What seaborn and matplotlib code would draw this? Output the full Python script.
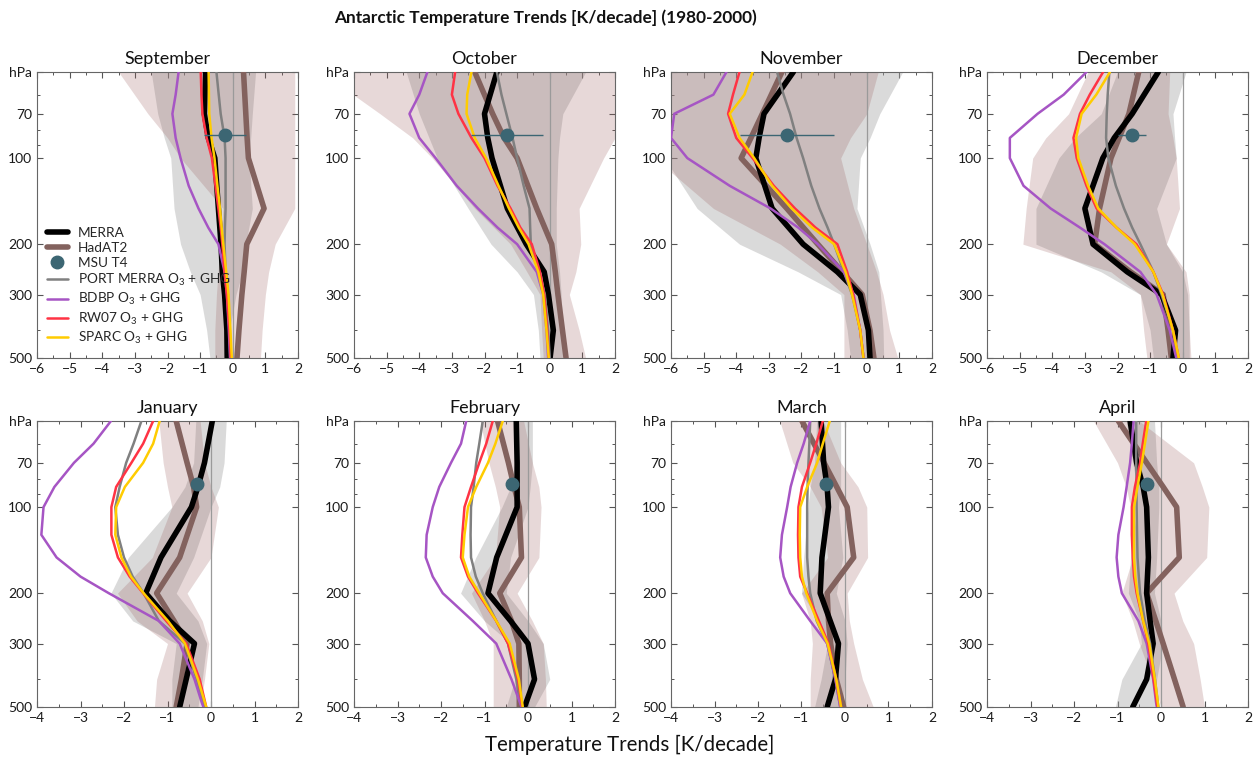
import numpy as np
import pandas as pd
import matplotlib
matplotlib.use('Agg')
import matplotlib.pyplot as plt
import seaborn as sns
from matplotlib.ticker import FixedLocator, NullFormatter
from matplotlib.lines import Line2D

sns.set_style('ticks')
plt.rcParams['font.family'] = ['Lato', 'DejaVu Sans']
plt.rcParams['mathtext.fontset'] = 'custom'
plt.rcParams['mathtext.rm'] = 'Lato'
plt.rcParams['mathtext.it'] = 'Lato:italic'

# ---------------- data ----------------
MONTHS = ['September', 'October', 'November', 'December',
          'January', 'February', 'March', 'April']
LEVELS = [50, 70, 85, 100, 150, 200, 250, 300, 400, 500]
MODEL_LEVELS = [50, 60, 70, 85, 100, 125, 150, 175, 200, 250, 300, 400, 500]
MSU_LEVEL = 83

MERRA = [
    [-0.83, -0.87, -0.75, -0.55, -0.44, -0.36, -0.32, -0.25, -0.18, -0.17],
    [-1.62, -2.0, -1.9, -1.77, -1.3, -0.72, -0.17, -0.04, 0.11, 0.01],
    [-2.25, -3.15, -3.3, -3.4, -2.9, -1.95, -0.9, -0.2, 0.05, 0.1],
    [-0.75, -1.55, -2.1, -2.45, -3.0, -2.75, -1.7, -0.65, -0.22, -0.3],
    [0.03, -0.15, -0.3, -0.45, -1.15, -1.5, -0.95, -0.38, -0.57, -0.72],
    [-0.27, -0.25, -0.25, -0.25, -0.72, -0.92, -0.4, 0.0, 0.15, -0.08],
    [-0.55, -0.49, -0.41, -0.38, -0.53, -0.57, -0.34, -0.15, -0.22, -0.41],
    [-0.71, -0.56, -0.41, -0.33, -0.29, -0.33, -0.25, -0.18, -0.33, -0.65],
]
HADAT2 = [
    [0.33, 0.4, 0.44, 0.48, 0.96, 0.43, 0.35, 0.28, 0.19, 0.13],
    [-2.3, -1.75, -1.4, -1.0, -0.4, 0.06, 0.17, 0.25, 0.39, 0.5],
    [-2.6, -3.2, -3.55, -3.85, -2.45, -1.5, -0.75, -0.14, 0.1, 0.22],
    [-1.35, -1.65, -1.95, -2.2, -2.55, -2.7, -1.6, -0.6, -0.45, -0.35],
    [-0.8, -0.55, -0.4, -0.33, -0.72, -1.25, -0.85, -0.55, -0.68, -0.8],
    [-0.7, -0.45, -0.32, -0.2, -0.15, -0.65, -0.38, -0.21, -0.2, -0.2],
    [-0.99, -0.48, -0.19, 0.05, 0.2, -0.41, -0.38, -0.33, -0.2, -0.03],
    [-0.98, -0.33, 0.05, 0.36, 0.42, -0.33, -0.12, 0.05, 0.31, 0.51],
]
PORT = [
    [-0.5, -0.43, -0.37, -0.25, -0.22, -0.22, -0.22, -0.24, -0.25, -0.22, -0.15, -0.1, -0.08],
    [-1.62, -1.48, -1.33, -1.14, -1.0, -0.8, -0.62, -0.6, -0.58, -0.35, -0.15, -0.05, 0.0],
    [-2.75, -2.55, -2.35, -2.15, -1.95, -1.7, -1.45, -1.2, -1.0, -0.7, -0.45, -0.2, -0.1],
    [-2.25, -2.3, -2.33, -2.35, -2.28, -2.05, -1.8, -1.55, -1.3, -0.9, -0.65, -0.3, -0.17],
    [-1.6, -1.78, -1.95, -2.1, -2.2, -2.14, -2.0, -1.8, -1.55, -1.2, -0.6, -0.33, -0.15],
    [-1.04, -1.12, -1.19, -1.25, -1.31, -1.32, -1.31, -1.2, -1.04, -0.73, -0.46, -0.27, -0.15],
    [-0.8, -0.82, -0.84, -0.86, -0.87, -0.87, -0.87, -0.84, -0.8, -0.65, -0.41, -0.22, -0.11],
    [-0.57, -0.57, -0.57, -0.56, -0.56, -0.55, -0.54, -0.51, -0.48, -0.37, -0.25, -0.14, -0.06],
]
BDBP = [
    [-1.66, -1.75, -1.85, -1.75, -1.6, -1.35, -1.05, -0.75, -0.44, -0.25, -0.18, -0.12, -0.08],
    [-3.75, -4.0, -4.3, -4.0, -3.5, -2.85, -2.2, -1.6, -1.0, -0.4, -0.2, -0.1, -0.05],
    [-4.3, -4.7, -5.9, -6.0, -5.5, -4.2, -2.95, -2.1, -1.5, -0.7, -0.4, -0.2, -0.1],
    [-2.95, -3.65, -4.45, -5.3, -5.3, -4.88, -4.05, -3.15, -2.4, -1.3, -0.8, -0.4, -0.2],
    [-2.3, -2.7, -3.15, -3.6, -3.85, -3.9, -3.55, -3.0, -2.35, -1.2, -0.72, -0.38, -0.18],
    [-1.42, -1.54, -1.77, -2.04, -2.19, -2.33, -2.35, -2.19, -1.96, -1.27, -0.73, -0.38, -0.15],
    [-0.8, -0.95, -1.1, -1.25, -1.33, -1.45, -1.49, -1.41, -1.26, -0.8, -0.41, -0.22, -0.11],
    [-0.63, -0.67, -0.71, -0.79, -0.86, -0.98, -1.02, -0.98, -0.9, -0.52, -0.33, -0.18, -0.1],
]
RW07 = [
    [-0.98, -0.96, -0.93, -0.8, -0.64, -0.53, -0.44, -0.37, -0.32, -0.25, -0.18, -0.1, -0.06],
    [-2.9, -3.0, -2.8, -2.4, -2.0, -1.6, -1.2, -0.9, -0.55, -0.3, -0.17, -0.08, -0.03],
    [-3.9, -4.1, -4.25, -4.0, -3.5, -2.85, -2.2, -1.57, -0.9, -0.6, -0.42, -0.2, -0.1],
    [-2.44, -2.85, -3.15, -3.35, -3.25, -2.95, -2.64, -2.03, -1.42, -0.9, -0.6, -0.3, -0.12],
    [-1.33, -1.56, -1.83, -2.18, -2.29, -2.29, -2.14, -1.87, -1.56, -1.03, -0.57, -0.26, -0.11],
    [-0.81, -0.96, -1.12, -1.31, -1.46, -1.51, -1.54, -1.38, -1.15, -0.73, -0.46, -0.23, -0.13],
    [-0.51, -0.66, -0.8, -0.99, -1.07, -1.08, -1.07, -1.03, -0.87, -0.6, -0.38, -0.2, -0.09],
    [-0.34, -0.42, -0.48, -0.6, -0.67, -0.67, -0.65, -0.62, -0.56, -0.41, -0.29, -0.17, -0.08],
]
SPARC = [
    [-0.74, -0.73, -0.72, -0.65, -0.56, -0.47, -0.39, -0.34, -0.29, -0.2, -0.13, -0.07, -0.03],
    [-2.4, -2.53, -2.55, -2.3, -1.95, -1.57, -1.25, -0.95, -0.65, -0.35, -0.2, -0.1, -0.03],
    [-3.5, -3.75, -4.2, -3.9, -3.45, -2.9, -2.3, -1.67, -1.0, -0.65, -0.45, -0.2, -0.1],
    [-2.23, -2.65, -3.1, -3.27, -3.2, -2.9, -2.59, -2.03, -1.47, -0.9, -0.62, -0.3, -0.12],
    [-1.18, -1.33, -1.56, -1.98, -2.18, -2.2, -2.06, -1.84, -1.55, -0.99, -0.6, -0.3, -0.11],
    [-0.58, -0.75, -0.92, -1.19, -1.38, -1.46, -1.5, -1.35, -1.12, -0.73, -0.42, -0.21, -0.12],
    [-0.35, -0.51, -0.64, -0.87, -1.03, -1.04, -1.03, -0.99, -0.89, -0.64, -0.4, -0.2, -0.09],
    [-0.29, -0.37, -0.44, -0.54, -0.62, -0.62, -0.62, -0.59, -0.54, -0.41, -0.27, -0.14, -0.06],
]
MSU = [-0.23, -1.3, -2.44, -1.55, -0.32, -0.36, -0.44, -0.33]
MSU_ERR = [0.65, 1.1, 1.43, 0.42, 0.1, 0.1, 0.12, 0.1]

MERRA_LO = [
    [-2.5, -2.3, -2.1, -1.9, -1.8, -1.6, -1.3, -1.0, -0.8, -0.7],
    [-4.4, -4.0, -3.7, -3.45, -2.5, -1.8, -1.0, -0.5, -0.35, -0.3],
    [-7.0, -6.8, -6.5, -6.2, -5.2, -3.9, -2.1, -0.8, -0.6, -0.5],
    [-2.0, -2.5, -3.3, -3.8, -4.5, -4.5, -2.5, -1.3, -1.0, -0.9],
    [-0.35, -0.4, -0.6, -0.9, -1.9, -2.3, -1.8, -0.8, -0.9, -0.9],
    [-0.3, -0.3, -0.4, -0.6, -1.2, -1.55, -1.0, -0.4, -0.3, -0.5],
    [-0.65, -0.7, -0.8, -0.85, -0.95, -1.0, -0.6, -0.4, -0.55, -0.7],
    [-0.8, -0.65, -0.55, -0.55, -0.7, -0.75, -0.5, -0.45, -0.9, -1.05],
]
MERRA_HI = [
    [0.7, 0.6, 0.55, 0.5, 0.6, 0.4, 0.3, 0.1, -0.1, -0.15],
    [1.1, 0.4, 0.3, 0.25, 0.2, 0.2, 0.3, 0.35, 0.4, 0.4],
    [1.1, 0.4, 0.1, -0.2, -0.3, 0.1, 0.37, 0.42, 0.5, 0.52],
    [0.1, -0.3, -0.25, -0.2, -0.8, -0.5, 0.0, 0.15, 0.2, 0.2],
    [0.35, 0.3, 0.2, 0.0, -0.4, -0.8, -0.3, -0.1, -0.2, -0.3],
    [0.1, 0.1, 0.05, 0.0, -0.4, -0.5, 0.0, 0.35, 0.5, 0.15],
    [-0.1, -0.1, -0.1, -0.15, -0.05, -0.2, 0.0, 0.05, 0.0, -0.05],
    [-0.15, -0.1, -0.05, -0.05, -0.1, -0.15, 0.0, 0.05, -0.1, -0.15],
]
HADAT_LO = [
    [-3.5, -2.6, -2.0, -1.6, -0.3, -0.4, -0.45, -0.5, -0.55, -0.55],
    [-7.0, -5.2, -4.2, -3.6, -2.3, -1.2, -0.7, -0.3, -0.25, -0.2],
    [-7.0, -7.0, -7.0, -6.5, -4.7, -2.65, -1.5, -0.7, -0.7, -0.7],
    [-2.9, -3.5, -4.2, -4.6, -4.8, -4.9, -2.2, -1.3, -1.2, -1.1],
    [-1.2, -1.1, -1.0, -0.9, -1.35, -2.15, -1.7, -1.0, -1.25, -1.3],
    [-1.1, -0.9, -0.75, -0.65, -0.75, -1.3, -1.0, -0.8, -0.8, -0.8],
    [-1.5, -1.2, -0.8, -0.55, -0.4, -1.0, -0.8, -0.75, -0.8, -0.8],
    [-1.55, -1.0, -0.8, -0.7, -0.65, -0.9, -0.65, -0.5, -0.2, 0.0],
]
HADAT_HI = [
    [1.9, 1.9, 1.9, 1.9, 1.9, 1.3, 1.1, 1.0, 0.9, 0.85],
    [2.6, 2.3, 2.0, 1.65, 0.9, 0.95, 0.8, 0.6, 0.9, 1.1],
    [0.35, 0.0, -0.5, -0.8, -0.4, 0.0, 0.3, 0.5, 0.7, 0.95],
    [-0.4, -0.45, -0.3, -0.2, -0.1, -0.5, 0.1, 0.2, 0.2, 0.25],
    [-0.25, -0.15, 0.0, 0.17, 0.0, -0.55, -0.2, -0.05, -0.15, -0.25],
    [-0.1, 0.1, 0.25, 0.3, 0.25, -0.25, 0.1, 0.35, 0.4, 0.42],
    [-0.5, -0.1, 0.3, 0.5, 0.52, 0.05, 0.1, 0.2, 0.4, 0.65],
    [-0.5, 0.75, 0.95, 1.1, 1.05, 0.3, 0.5, 0.75, 0.9, 1.0],
]

Y_TICKS = [50, 70, 100, 200, 300, 500]
Y_TICKLABELS = ['hPa', '70', '100', '200', '300', '500']
Y_MINOR = [60, 80, 90, 400]

C_MERRA = '#000000'
C_HADAT = '#83625e'
C_MSU = '#3c6673'
C_PORT = '#808080'
C_BDBP = '#a655c4'
C_RW07 = '#ff3344'
C_SPARC = '#ffcc00'

# ---------------- figure ----------------
W, H = 1256, 758
fig = plt.figure(figsize=(W / 100, H / 100), dpi=100)

lefts_px = [37, 354, 671, 987]
width_px = 261
height_px = 286
bottoms_px = [358, 707]

series = [
    (HADAT2, LEVELS, C_HADAT, 4.0),
    (MERRA, LEVELS, C_MERRA, 4.0),
    (PORT, MODEL_LEVELS, C_PORT, 1.8),
    (BDBP, MODEL_LEVELS, C_BDBP, 1.8),
    (RW07, MODEL_LEVELS, C_RW07, 1.8),
    (SPARC, MODEL_LEVELS, C_SPARC, 1.8),
]

for i, month in enumerate(MONTHS):
    row, col = divmod(i, 4)
    ax = fig.add_axes([lefts_px[col] / W, 1 - bottoms_px[row] / H,
                       width_px / W, height_px / H])
    xlim = (-6, 2) if row == 0 else (-4, 2)

    ax.fill_betweenx(LEVELS, MERRA_LO[i], MERRA_HI[i], color='#a8a8a8',
                     alpha=0.42, lw=0, zorder=1)
    ax.fill_betweenx(LEVELS, HADAT_LO[i], HADAT_HI[i], color='#9b5f5f',
                     alpha=0.24, lw=0, zorder=1.1)
    ax.axvline(0, color='#9a9a9a', lw=0.9, zorder=1.5)

    for arr, lev, color, lw in series:
        df = pd.DataFrame({'x': arr[i], 'p': lev})
        sns.lineplot(data=df, x='x', y='p', sort=False, estimator=None,
                     color=color, lw=lw, ax=ax, legend=False, zorder=3)

    ax.errorbar([MSU[i]], [MSU_LEVEL], xerr=[MSU_ERR[i]], fmt='o', color=C_MSU,
                ms=9, elinewidth=1.0, capsize=0, zorder=5)

    ax.set_yscale('log')
    ax.set_ylim(500, 50)
    ax.set_xlim(*xlim)
    ax.yaxis.set_major_locator(FixedLocator(Y_TICKS))
    ax.set_yticklabels(Y_TICKLABELS)
    ax.yaxis.set_minor_locator(FixedLocator(Y_MINOR))
    ax.yaxis.set_minor_formatter(NullFormatter())
    ax.set_xticks(range(xlim[0], xlim[1] + 1))
    ax.set_xticks(np.arange(xlim[0], xlim[1] + 0.01, 0.5), minor=True)
    ax.set_xlabel('')
    ax.set_ylabel('')
    ax.tick_params(which='both', direction='in', top=True, right=True,
                   colors='#555555', labelcolor='#1a1a1a', labelsize=10)
    ax.tick_params(which='major', length=4, width=0.8)
    ax.tick_params(which='minor', length=2.5, width=0.7)
    for s in ax.spines.values():
        s.set_color('#666666')
        s.set_linewidth(0.8)
    ax.set_title(month, fontsize=13, pad=6, color='#111111')

    if i == 0:
        handles = [
            Line2D([], [], color=C_MERRA, lw=4.0),
            Line2D([], [], color=C_HADAT, lw=4.0),
            Line2D([], [], color=C_MSU, lw=0, marker='o', ms=9),
            Line2D([], [], color=C_PORT, lw=1.8),
            Line2D([], [], color=C_BDBP, lw=1.8),
            Line2D([], [], color=C_RW07, lw=1.8),
            Line2D([], [], color=C_SPARC, lw=1.8),
        ]
        labels = ['MERRA', 'HadAT2', 'MSU T4', 'PORT MERRA O$_3$ + GHG',
                  'BDBP O$_3$ + GHG', 'RW07 O$_3$ + GHG', 'SPARC O$_3$ + GHG']
        ax.legend(handles, labels, loc='lower left', bbox_to_anchor=(0.0, 0.01),
                  frameon=False, fontsize=9.8, handlelength=1.6,
                  labelspacing=0.22, handletextpad=0.7, borderaxespad=0.3)

fig.text(545 / W, 1 - 18 / H, 'Antarctic Temperature Trends [K/decade] (1980-2000)',
         ha='center', va='center', fontsize=12.4, fontweight='bold', color='#111111')
fig.text(630 / W, 1 - 745 / H, 'Temperature Trends [K/decade]',
         ha='center', va='center', fontsize=14.8, color='#111111')

fig.savefig('out.png', dpi=100)
